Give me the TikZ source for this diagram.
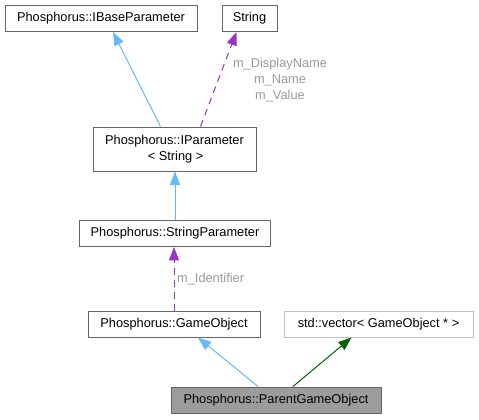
\documentclass[tikz,border=0pt]{standalone}
\usepackage{fontspec}
\setmainfont{Liberation Sans}
\usetikzlibrary{calc,arrows.meta}
\definecolor{inhblue}{HTML}{63B8FF}
\definecolor{usepurple}{HTML}{9A32CD}
\definecolor{tmplgreen}{HTML}{006400}
\definecolor{boxgray}{HTML}{666666}
\definecolor{lblgray}{HTML}{9A9A9A}
\begin{document}
\begin{tikzpicture}[x=.75pt,y=-.75pt,>={Triangle[length=10pt,width=7.5pt]},
  every node/.style={font=\fontsize{9.6}{12}\selectfont},
  cls/.style={draw=boxgray,line width=.75pt,inner sep=0pt,minimum height=19.5pt,align=center},
  ext/.style={cls,draw=black!25},
  inh/.style={->,inhblue,line width=.75pt},
  use/.style={->,usepurple,line width=.75pt,dash pattern=on 5pt off 4pt},
  tmpl/.style={->,tmplgreen,line width=.75pt},
  lbl/.style={text=lblgray,align=center,inner sep=0pt}]
\useasboundingbox (0,0) rectangle (479,419);
\node[cls,minimum width=144pt] (ibase) at (101,18.5) {Phosphorus::IBaseParameter};
\node[cls,minimum width=41.25pt] (str) at (249.5,18.5) {String};
\node[cls,minimum width=122.25pt,minimum height=33pt] (ipar) at (174.5,149) {Phosphorus::IParameter\\\,< String >};
\node[cls,minimum width=143.25pt] (spar) at (175,233.5) {Phosphorus::StringParameter};
\node[cls,minimum width=129pt] (gobj) at (174,324) {Phosphorus::GameObject};
\node[ext,minimum width=141.75pt] (vec) at (378.5,324) {std::vector< GameObject * >};
\node[cls,fill=boxgray!65,minimum width=157.5pt] (pgo) at (276,400) {Phosphorus::ParentGameObject};
% inheritance and usage
\draw[inh] ($(ipar.north)+(-14,0)$) -- ($(ibase.south)+(12,0)$);
\draw[use] ($(ipar.north)+(26,0)$) -- ($(str.south)+(-13,0)$);
\node[lbl] (strlbl) at (280,80) {m\_DisplayName\\m\_Name\\m\_Value};
\draw[inh] (spar.north) -- (spar.north |- ipar.south);
\draw[use] (gobj.north) -- (gobj.north |- spar.south) node[lbl,pos=.5,right=2pt] (idlbl) {m\_Identifier};
\draw[inh] ($(pgo.north)+(-18,0)$) -- ($(gobj.south)+(24,0)$);
\draw[tmpl] ($(pgo.north)+(17,0)$) -- ($(vec.south)+(-27,0)$);
\end{tikzpicture}
\end{document}
